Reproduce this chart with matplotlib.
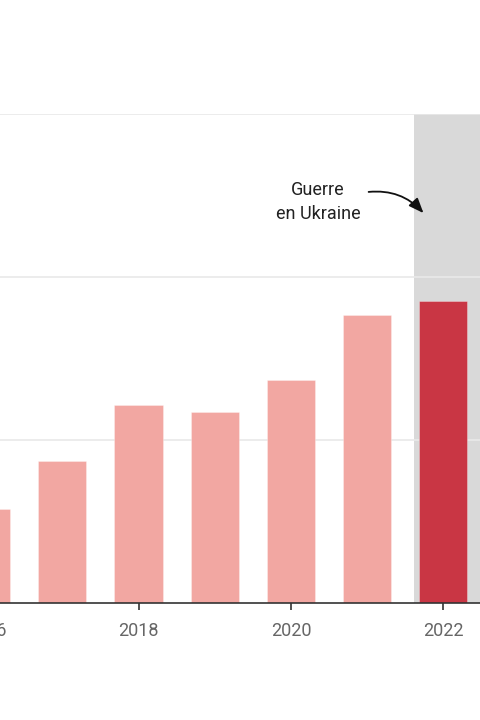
import numpy as np
import matplotlib.pyplot as plt

plt.rcParams['font.family'] = ['Roboto', 'DejaVu Sans']

years = [2016, 2017, 2018, 2019, 2020, 2021, 2022]
values = [28.7, 43.7, 60.7, 58.6, 68.4, 88.3, 92.7]
highlight_year = 2022
tick_years = [2016, 2018, 2020, 2022]
grid_values = [50, 100, 150]

light = '#f2a7a2'
dark = '#c93644'

fig = plt.figure(figsize=(4.8, 7.2), dpi=100)
ax = fig.add_axes([0, 117 / 720, 1, 489 / 720])

# shaded war period
ax.axvspan(2021.615, 2023, color='#d9d9d9', zorder=0, lw=0)

for v in grid_values:
    ax.axhline(v, color='#e9e9e9', lw=1.2, zorder=1)

colors = [dark if y == highlight_year else light for y in years]
ax.bar(years, values, width=0.63, color=colors, zorder=2,
       edgecolor=(1, 1, 1, 0.35), linewidth=0.6)

for s in ['top', 'right', 'left']:
    ax.spines[s].set_visible(False)
ax.spines['bottom'].set_color('#333333')
ax.spines['bottom'].set_linewidth(1.2)
ax.spines['bottom'].set_zorder(3)

ax.set_yticks([])
ax.set_xticks(tick_years)
ax.set_xticklabels([str(y) for y in tick_years])
ax.tick_params(axis='x', length=5, width=1.2, color='#333333',
               labelsize=13, labelcolor='#666666', pad=9)

# view is cropped: set after ticks so it isn't widened again
ax.set_xlim(2018 - 138.5 / 76.2, 2018 + 341.5 / 76.2)
ax.set_ylim(0, 150)

# ticks outside the view get no label, so put the cut one in by hand
for y in tick_years:
    if y < ax.get_xlim()[0]:
        ax.annotate(str(y), xy=(y, 0), xycoords=('data', 'axes fraction'),
                    xytext=(0, -14), textcoords='offset points',
                    ha='center', va='top', fontsize=13, color='#666666',
                    annotation_clip=False)

ax.text(2020.356, 123.0, 'Guerre\nen Ukraine', ha='center', va='center',
        fontsize=13, color='#222222', linespacing=1.45)
ax.annotate('', xy=(2021.74, 119.6), xytext=(2021.02, 126.1),
            arrowprops=dict(arrowstyle='-|>,head_length=0.9,head_width=0.36',
                            color='#111111', lw=1.3,
                            connectionstyle='arc3,rad=-0.25',
                            shrinkA=0, shrinkB=0))

fig.savefig('out.png', dpi=100)
